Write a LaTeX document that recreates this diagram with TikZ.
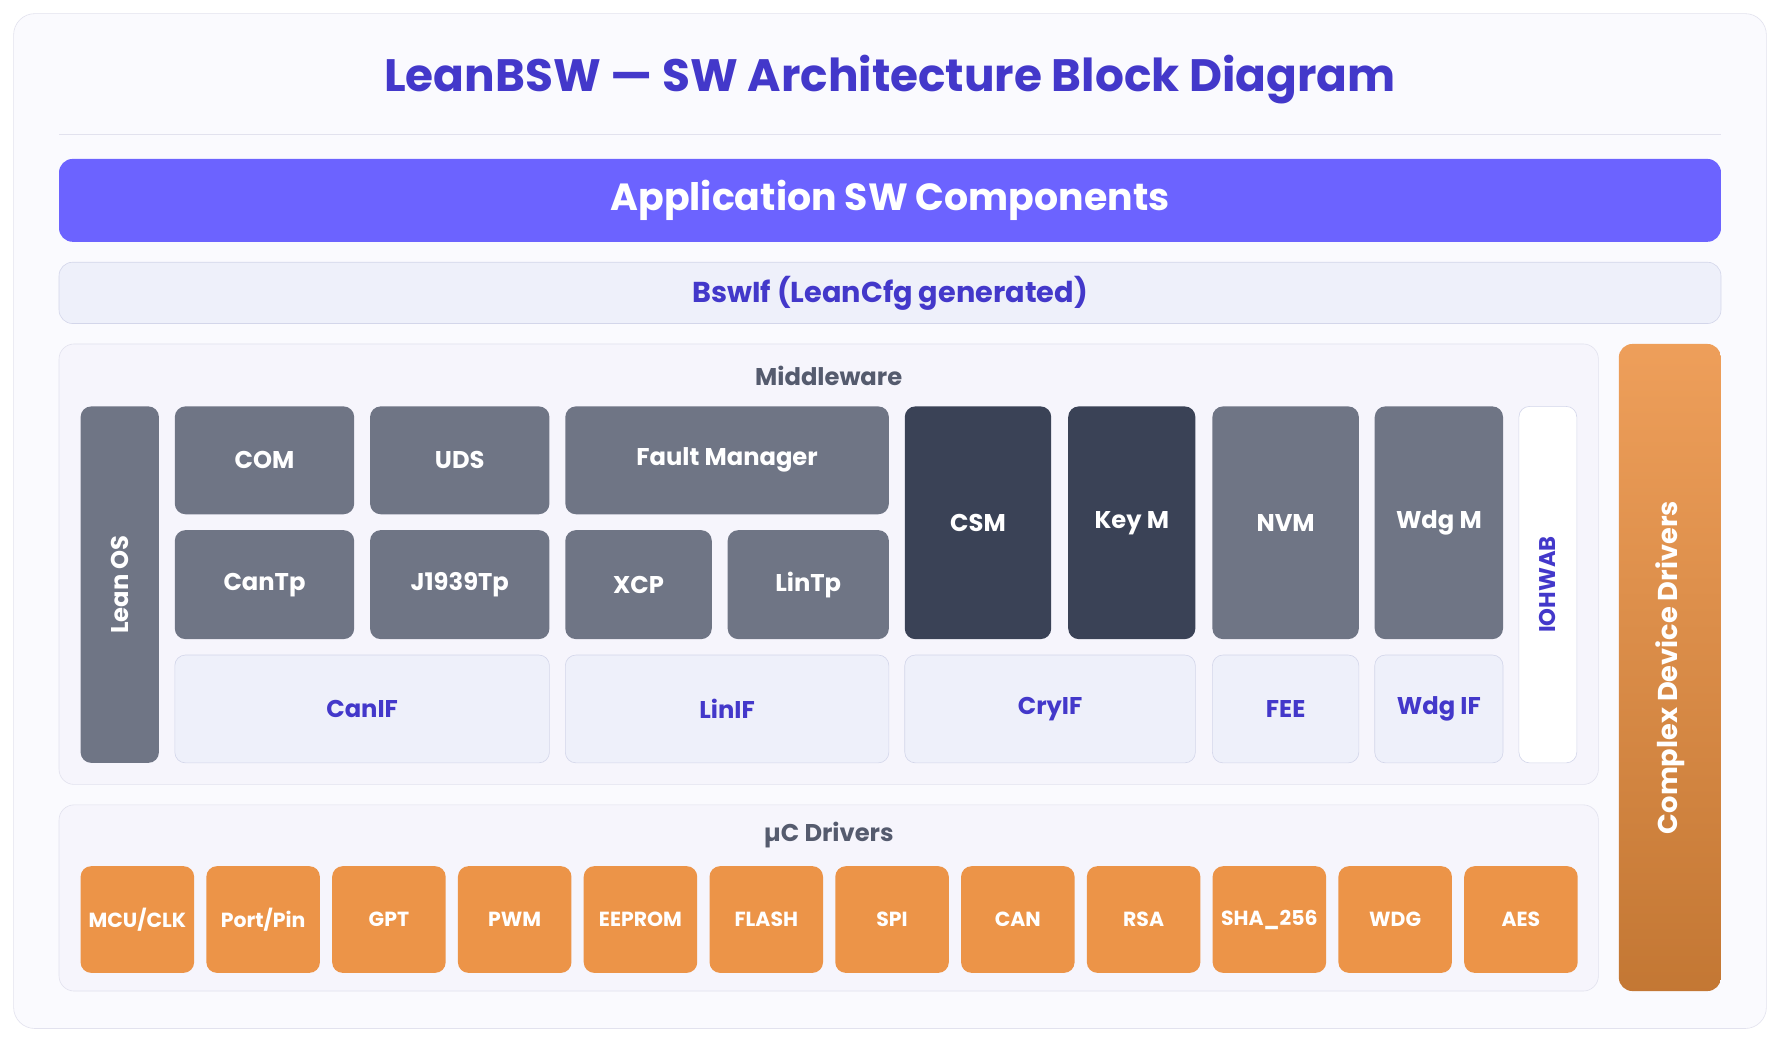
\documentclass[tikz,border=0pt]{standalone}
\usepackage{fontspec}
\setmainfont{Poppins}
\begin{document}
\definecolor{indigo}{HTML}{4338CA}
\definecolor{appc}{HTML}{6C63FF}
\definecolor{lite}{HTML}{EEF0FA}
\definecolor{litebd}{HTML}{D3D6EA}
\definecolor{grp}{HTML}{F6F5FC}
\definecolor{grpbd}{HTML}{E2E2EE}
\definecolor{midg}{HTML}{6F7585}
\definecolor{dark}{HTML}{3A4256}
\definecolor{orng}{HTML}{EC9448}
\definecolor{lbl}{HTML}{555B6E}
\newcommand\blk[7]{%
  \pgfmathsetlengthmacro\bw{(#4-#2)*0.75pt}%
  \pgfmathsetlengthmacro\bh{(#5-#3)*0.75pt}%
  \node[#6,minimum width=\bw,minimum height=\bh] (#1) at ({(#2+#4)/2},{(#3+#5)/2}) {#7};}
\begin{tikzpicture}[x=0.75pt,y=-0.75pt,
  base/.style={rounded corners=7pt,inner sep=0pt,font=\fontsize{16}{18}\selectfont\bfseries},
  mid/.style={base,fill=midg,text=white},
  drk/.style={base,fill=dark,text=white},
  lt/.style={base,fill=lite,draw=litebd,text=indigo,font=\fontsize{16}{18}\selectfont\bfseries},
  grp/.style={rounded corners=10pt,fill=grp,draw=grpbd,inner sep=0pt},
  drv/.style={base,fill=orng,text=white,font=\fontsize{13.5}{15}\selectfont\bfseries},
  glbl/.style={text=lbl,font=\fontsize{16}{18}\selectfont\bfseries}]
\useasboundingbox (0,0) rectangle (1568,918);
\fill[white] (0,0) rectangle (1568,918);
\blk{card}{12}{12}{1556}{906}{rounded corners=14pt,draw=grpbd,fill=white!50!grp}{}
\node[text=indigo,font=\fontsize{30}{34}\selectfont\bfseries] (title) at (784,70) {LeanBSW — SW Architecture Block Diagram};
\draw[grpbd] (52,118) -- (1516,118);
\blk{app}{52}{140}{1516}{213}{base,rounded corners=9pt,fill=appc,text=white,font=\fontsize{25}{28}\selectfont\bfseries}{Application SW Components}
\blk{bswif}{52}{231}{1516}{285}{lt,rounded corners=9pt,font=\fontsize{19}{22}\selectfont\bfseries}{BswIf (LeanCfg generated)}
\blk{mw}{52}{303}{1408}{691}{grp}{}
\node[glbl] (mwl) at (730,331) {Middleware};
\blk{os}{71}{358}{140}{672}{mid}{}
\node[rotate=90,text=white,font=\fontsize{16}{18}\selectfont\bfseries] at (os) {Lean OS};
\blk{com}{154}{358}{312}{453}{mid}{COM}
\blk{uds}{326}{358}{484}{453}{mid}{UDS}
\blk{fm}{498}{358}{783}{453}{mid}{Fault Manager}
\blk{cantp}{154}{467}{312}{563}{mid}{CanTp}
\blk{j19}{326}{467}{484}{563}{mid}{J1939Tp}
\blk{xcp}{498}{467}{627}{563}{mid}{XCP}
\blk{lintp}{641}{467}{783}{563}{mid}{LinTp}
\blk{csm}{797}{358}{926}{563}{drk}{CSM}
\blk{keym}{941}{358}{1053}{563}{drk}{Key M}
\blk{nvm}{1068}{358}{1197}{563}{mid}{NVM}
\blk{wdgm}{1211}{358}{1324}{563}{mid}{Wdg M}
\blk{iohw}{1338}{358}{1389}{672}{base,fill=white,draw=litebd}{}
\node[rotate=90,text=indigo,font=\fontsize{15}{18}\selectfont\bfseries] at (iohw) {IOHWAB};
\blk{canif}{154}{577}{484}{672}{lt}{CanIF}
\blk{linif}{498}{577}{783}{672}{lt}{LinIF}
\blk{cryif}{797}{577}{1053}{672}{lt}{CryIF}
\blk{fee}{1068}{577}{1197}{672}{lt}{FEE}
\blk{wdgif}{1211}{577}{1324}{672}{lt}{Wdg IF}
\blk{uc}{52}{709}{1408}{873}{grp}{}
\node[glbl] (ucl) at (730,736) {µC Drivers};
\foreach \t [count=\i from 0] in {MCU/CLK,Port/Pin,GPT,PWM,EEPROM,FLASH,SPI,CAN,RSA,SHA\_256,WDG,AES}{
  \pgfmathsetmacro\xa{71+\i*110.8}
  \pgfmathsetmacro\xb{\xa+100}
  \blk{d\i}{\xa}{763}{\xb}{857}{drv}{\t}
}
\blk{cdd}{1426}{303}{1516}{873}{base,rounded corners=9pt,top color=orng!90!white,bottom color=orng!80!black!90!orange}{}
\node[rotate=90,text=white,font=\fontsize{18}{20}\selectfont\bfseries] at (cdd) {Complex Device Drivers};
\end{tikzpicture}
\end{document}
